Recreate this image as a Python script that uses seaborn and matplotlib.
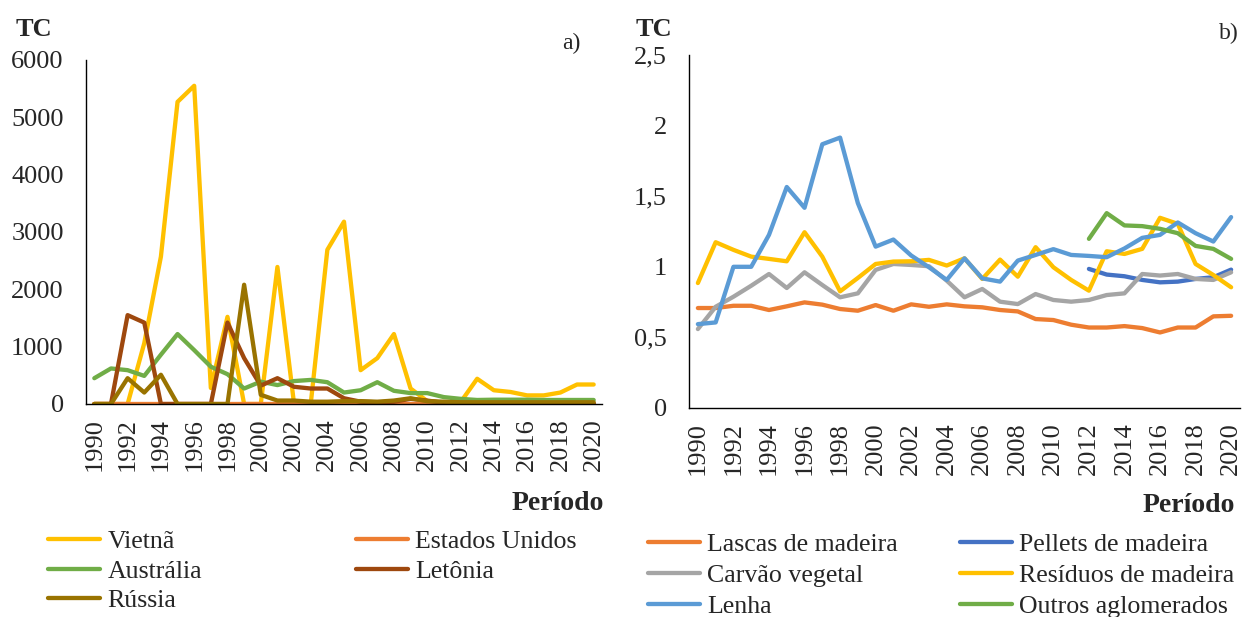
import pandas as pd
import matplotlib
matplotlib.use("Agg")
import matplotlib.pyplot as plt
from matplotlib.ticker import FuncFormatter
import seaborn as sns

# Dados - painel a) (TC por país)
anos = list(range(1990, 2021))
vietna = [0, 0, 0, 1060, 2570, 5270, 5550, 280, 1520, 0, 0, 2390, 0, 0, 2690, 3180,
          590, 800, 1220, 270, 50, 20, 30, 440, 240, 210, 150, 150, 200, 340, 340]
estados_unidos = [2, 2, 2, 2, 2, 2, 2, 2, 2, 2, 2, 2, 2, 2, 2, 2,
                  2, 2, 2, 2, 2, 2, 2, 2, 2, 2, 2, 2, 2, 2, 2]
australia = [450, 620, 590, 490, 860, 1220, 940, 650, 520, 270, 390, 330, 400, 420, 380, 200,
             240, 380, 230, 190, 190, 120, 90, 70, 75, 75, 75, 70, 70, 70, 70]
letonia = [0, 0, 1550, 1420, 0, 0, 0, 0, 1420, 800, 320, 450, 300, 270, 270, 100,
           40, 30, 40, 90, 60, 20, 20, 15, 15, 10, 10, 10, 10, 10, 10]
russia = [0, 0, 450, 200, 510, 0, 0, 0, 0, 2080, 160, 60, 60, 40, 40, 50,
          50, 40, 60, 100, 50, 40, 30, 30, 30, 30, 30, 30, 30, 30, 30]

# Dados - painel b) (TC por produto)
anos_aglom = list(range(2012, 2021))
lascas = [0.708, 0.708, 0.724, 0.724, 0.694, 0.72, 0.748, 0.732, 0.701, 0.689, 0.729,
          0.689, 0.734, 0.717, 0.734, 0.72, 0.713, 0.694, 0.684, 0.63, 0.623, 0.59,
          0.57, 0.57, 0.58, 0.566, 0.535, 0.57, 0.57, 0.649, 0.653]
pellets = [0.985, 0.945, 0.933, 0.907, 0.89, 0.895, 0.914, 0.926, 0.98]
carvao = [0.559, 0.717, 0.788, 0.866, 0.949, 0.85, 0.961, 0.871, 0.784, 0.812, 0.978,
          1.02, 1.013, 1.004, 0.902, 0.784, 0.843, 0.753, 0.736, 0.807, 0.765, 0.753,
          0.765, 0.8, 0.812, 0.949, 0.938, 0.949, 0.914, 0.907, 0.961]
residuos = [0.885, 1.174, 1.12, 1.072, 1.056, 1.039, 1.245, 1.072, 0.826, 0.921, 1.02,
            1.037, 1.039, 1.049, 1.009, 1.06, 0.914, 1.051, 0.93, 1.139, 0.997, 0.907,
            0.831, 1.11, 1.091, 1.127, 1.347, 1.304, 1.02, 0.942, 0.855]
lenha = [0.594, 0.606, 1.0, 1.0, 1.226, 1.565, 1.418, 1.868, 1.915, 1.451, 1.143,
         1.193, 1.08, 0.997, 0.907, 1.06, 0.918, 0.895, 1.044, 1.084, 1.125, 1.084,
         1.077, 1.068, 1.13, 1.205, 1.226, 1.314, 1.238, 1.179, 1.352]
outros = [1.198, 1.38, 1.293, 1.288, 1.269, 1.238, 1.148, 1.127, 1.056]

series_a = ["Vietnã", "Estados Unidos", "Austrália", "Letônia", "Rússia"]
cores_a = ["#FFC000", "#ED7D31", "#70AD47", "#9E480E", "#997300"]
series_b = ["Lascas de madeira", "Pellets de madeira", "Carvão vegetal",
            "Resíduos de madeira", "Lenha", "Outros aglomerados"]
cores_b = ["#ED7D31", "#4472C4", "#A5A5A5", "#FFC000", "#5B9BD5", "#70AD47"]


def longo(pares):
    partes = []
    for nome, xs, ys in pares:
        partes.append(pd.DataFrame({"Ano": xs, "TC": ys, "Série": nome}))
    return pd.concat(partes, ignore_index=True)


df_a = longo([("Vietnã", anos, vietna), ("Estados Unidos", anos, estados_unidos),
              ("Austrália", anos, australia), ("Letônia", anos, letonia),
              ("Rússia", anos, russia)])
df_b = longo([("Lascas de madeira", anos, lascas), ("Pellets de madeira", anos_aglom, pellets),
              ("Carvão vegetal", anos, carvao), ("Resíduos de madeira", anos, residuos),
              ("Lenha", anos, lenha), ("Outros aglomerados", anos_aglom, outros)])

sns.set_style("white")
plt.rcParams["font.family"] = ["Liberation Serif", "DejaVu Serif"]
plt.rcParams["lines.solid_joinstyle"] = "round"
plt.rcParams["lines.solid_capstyle"] = "round"

W, H = 1243, 617
fig = plt.figure(figsize=(W / 100, H / 100), dpi=100)


def caixa(x0, y0, x1, y1):
    return [x0 / W, 1 - y1 / H, (x1 - x0) / W, (y1 - y0) / H]


ax_a = fig.add_axes(caixa(86, 60, 602, 404))
ax_b = fig.add_axes(caixa(689, 55, 1240, 408))


def estilo(ax):
    for lado in ["top", "right"]:
        ax.spines[lado].set_visible(False)
    for lado in ["left", "bottom"]:
        ax.spines[lado].set_color("black")
        ax.spines[lado].set_linewidth(1.0)
    ax.set_xlim(1989.5, 2020.5)
    ax.set_xticks(anos)
    ax.set_xticklabels([str(a) if a % 2 == 0 else "" for a in anos], rotation=90)
    ax.tick_params(axis="x", direction="out", length=4, width=1, color="black",
                   labelsize=19, pad=6)
    ax.tick_params(axis="y", direction="out", length=6, width=1, color="black",
                   labelsize=19, pad=10)
    ax.set_xlabel("")
    ax.set_ylabel("")
    ax.grid(False)


sns.lineplot(data=df_a, x="Ano", y="TC", hue="Série", hue_order=series_a,
             palette=cores_a, linewidth=3.1, legend=False, ax=ax_a)
estilo(ax_a)
ax_a.set_ylim(0, 6000)
ax_a.set_yticks(range(0, 6001, 1000))

sns.lineplot(data=df_b, x="Ano", y="TC", hue="Série", hue_order=series_b,
             palette=cores_b, linewidth=3.1, legend=False, ax=ax_b)
estilo(ax_b)
ax_b.set_ylim(0, 2.5)
ax_b.set_yticks([0, 0.5, 1, 1.5, 2, 2.5])
ax_b.yaxis.set_major_formatter(FuncFormatter(lambda v, p: f"{v:g}".replace(".", ",")))

# textos
fig.text(34 / W, 1 - 29 / H, "TC", fontsize=19, fontweight="bold", ha="center", va="center")
fig.text(654 / W, 1 - 29 / H, "TC", fontsize=19, fontweight="bold", ha="center", va="center")
fig.text(571 / W, 1 - 43 / H, "a)", fontsize=17, ha="center", va="center")
fig.text(1229 / W, 1 - 33 / H, "b)", fontsize=17, ha="center", va="center")
fig.text(558 / W, 1 - 503 / H, "Período", fontsize=20, fontweight="bold", ha="center", va="center")
fig.text(1189 / W, 1 - 505 / H, "Período", fontsize=20, fontweight="bold", ha="center", va="center")


# legendas
def legenda(ax, nomes, todos, x, y_topo, espaco):
    linhas = ax.get_lines()
    hs = [linhas[todos.index(n)] for n in nomes]
    leg = fig.legend(hs, nomes, loc="upper left", bbox_to_anchor=(x / W, 1 - y_topo / H),
                     frameon=False, fontsize=18.6, borderpad=0, borderaxespad=0,
                     handlelength=2.0, handletextpad=0.3, labelspacing=espaco)
    return leg


legenda(ax_a, ["Vietnã", "Austrália", "Rússia"], series_a, 48, 530, 0.25)
legenda(ax_a, ["Estados Unidos", "Letônia"], series_a, 356, 530, 0.25)
legenda(ax_b, ["Lascas de madeira", "Carvão vegetal", "Lenha"], series_b, 648, 533, 0.3)
legenda(ax_b, ["Pellets de madeira", "Resíduos de madeira", "Outros aglomerados"],
        series_b, 960, 533, 0.3)

fig.savefig("out.png", dpi=100)
